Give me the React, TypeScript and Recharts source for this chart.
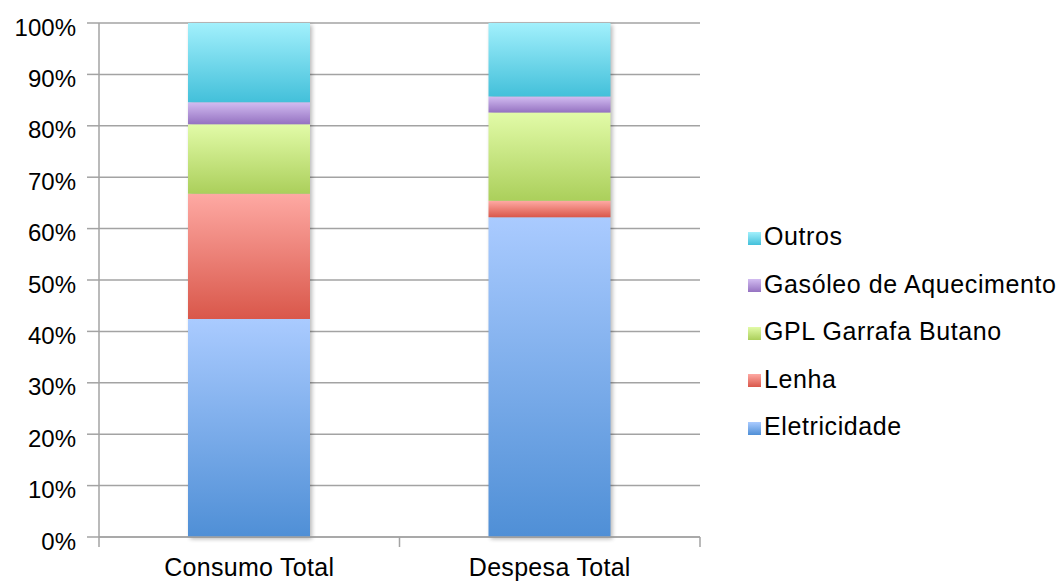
import { BarChart, Bar, XAxis, YAxis, CartesianGrid, Legend } from 'recharts';

// Share of each energy source in household consumption and spending
const categories = ['Consumo Total', 'Despesa Total'];
const eletricidade = [42.4, 62.2];
const lenha = [24.4, 3.2];
const gpl = [13.5, 17.2];
const gasoleo = [4.3, 3.1];
const outros = [15.4, 14.3];
const yTicks = [0, 10, 20, 30, 40, 50, 60, 70, 80, 90, 100];

const SERIES = [
    { key: 'eletricidade', name: 'Eletricidade', top: '#aacbff', bottom: '#4f8fd6' },
    { key: 'lenha', name: 'Lenha', top: '#fea9a3', bottom: '#d9574a' },
    { key: 'gpl', name: 'GPL Garrafa Butano', top: '#e2fba8', bottom: '#abcf5b' },
    { key: 'gasoleo', name: 'Gasóleo de Aquecimento', top: '#d2bcf1', bottom: '#9572c1' },
    { key: 'outros', name: 'Outros', top: '#a2f0fc', bottom: '#43c0da' },
];

const data = categories.map((name, i) => ({
    name,
    eletricidade: eletricidade[i],
    lenha: lenha[i],
    gpl: gpl[i],
    gasoleo: gasoleo[i],
    outros: outros[i],
}));

const FONT = '"Liberation Sans", Arial, Helvetica, sans-serif';
const AXIS_COLOR = '#a3a3a3';
const WIDTH = 1064;
const HEIGHT = 581;
const Y_AXIS_WIDTH = 99;
const MARGIN = { top: 23, right: 364, bottom: 0, left: 0 };
const PLOT_WIDTH = WIDTH - MARGIN.left - MARGIN.right - Y_AXIS_WIDTH;
const BAND = PLOT_WIDTH / categories.length;

const YTick = ({ x, y, payload }: any) => (
    <text x={x} y={y} dy={12.5} textAnchor="end" fontSize={24} fontFamily={FONT} fill="#000">
        {`${payload.value}%`}
    </text>
);

// category labels, with the tick marks placed on the band edges
const XTick = ({ x, y, payload, index }: any) => {
    const axisY = y - 21;
    return (
        <g>
            <line x1={x - BAND / 2} x2={x - BAND / 2} y1={axisY} y2={axisY + 10} stroke={AXIS_COLOR} strokeWidth={1.5} />
            {index === categories.length - 1 && (
                <line x1={x + BAND / 2} x2={x + BAND / 2} y1={axisY} y2={axisY + 10} stroke={AXIS_COLOR} strokeWidth={1.5} />
            )}
            <text x={x} y={y} dy={18} textAnchor="middle" fontSize={25} fontFamily={FONT} fill="#000" letterSpacing={0.3}>
                {payload.value}
            </text>
        </g>
    );
};

// bottom segment also draws a soft shadow behind the whole stacked column
const BaseShape = (props: any) => {
    const { x, y, width, height, payload, fill } = props;
    const total = SERIES.reduce((s, d) => s + payload[d.key], 0);
    const full = (height * total) / payload.eletricidade;
    return (
        <g>
            <rect x={x + 2} y={y + height - full + 2} width={width} height={full} fill="#000" opacity={0.28} filter="url(#colShadow)" />
            <rect x={x} y={y} width={width} height={height} fill={fill} />
        </g>
    );
};

const LegendContent = () => (
    <div style={{ fontFamily: FONT, fontSize: 25, color: '#000', letterSpacing: 0.6 }}>
        {[...SERIES].reverse().map((s) => (
            <div key={s.key} style={{ display: 'flex', alignItems: 'center', height: 47.5 }}>
                <span
                    style={{
                        width: 13,
                        height: 13,
                        marginTop: 3,
                        marginRight: 3,
                        background: `linear-gradient(${s.top}, ${s.bottom})`,
                        display: 'inline-block',
                    }}
                />
                <span>{s.name}</span>
            </div>
        ))}
    </div>
);

const App = () => (
    <div style={{ position: 'absolute', left: 0, top: 0, width: WIDTH, height: HEIGHT, background: '#fff' }}>
        <BarChart width={WIDTH} height={HEIGHT} data={data} margin={MARGIN}>
            <defs>
                {SERIES.map((s) => (
                    <linearGradient key={s.key} id={`grad-${s.key}`} x1="0" y1="0" x2="0" y2="1">
                        <stop offset="0%" stopColor={s.top} />
                        <stop offset="100%" stopColor={s.bottom} />
                    </linearGradient>
                ))}
                <filter id="colShadow" x="-20%" y="-20%" width="140%" height="140%">
                    <feGaussianBlur stdDeviation="2" />
                </filter>
            </defs>
            <CartesianGrid vertical={false} stroke={AXIS_COLOR} strokeWidth={1.5} />
            <XAxis
                dataKey="name"
                height={44}
                axisLine={{ stroke: AXIS_COLOR, strokeWidth: 1.5 }}
                tickLine={false}
                tickSize={10}
                tickMargin={11}
                tick={<XTick />}
                interval={0}
            />
            <YAxis
                width={Y_AXIS_WIDTH}
                domain={[0, 100]}
                ticks={yTicks}
                interval={0}
                axisLine={{ stroke: AXIS_COLOR, strokeWidth: 1.5 }}
                tickLine={{ stroke: AXIS_COLOR, strokeWidth: 1.5 }}
                tickSize={12}
                tickMargin={11}
                tick={<YTick />}
            />
            <Legend
                layout="vertical"
                align="center"
                verticalAlign="middle"
                content={<LegendContent />}
                wrapperStyle={{ left: 748, top: 213, width: 316 }}
            />
            {SERIES.map((s) => (
                <Bar
                    key={s.key}
                    dataKey={s.key}
                    name={s.name}
                    stackId="a"
                    barSize={122}
                    fill={`url(#grad-${s.key})`}
                    shape={s.key === 'eletricidade' ? <BaseShape /> : undefined}
                    isAnimationActive={false}
                />
            ))}
        </BarChart>
    </div>
);

export default App;
